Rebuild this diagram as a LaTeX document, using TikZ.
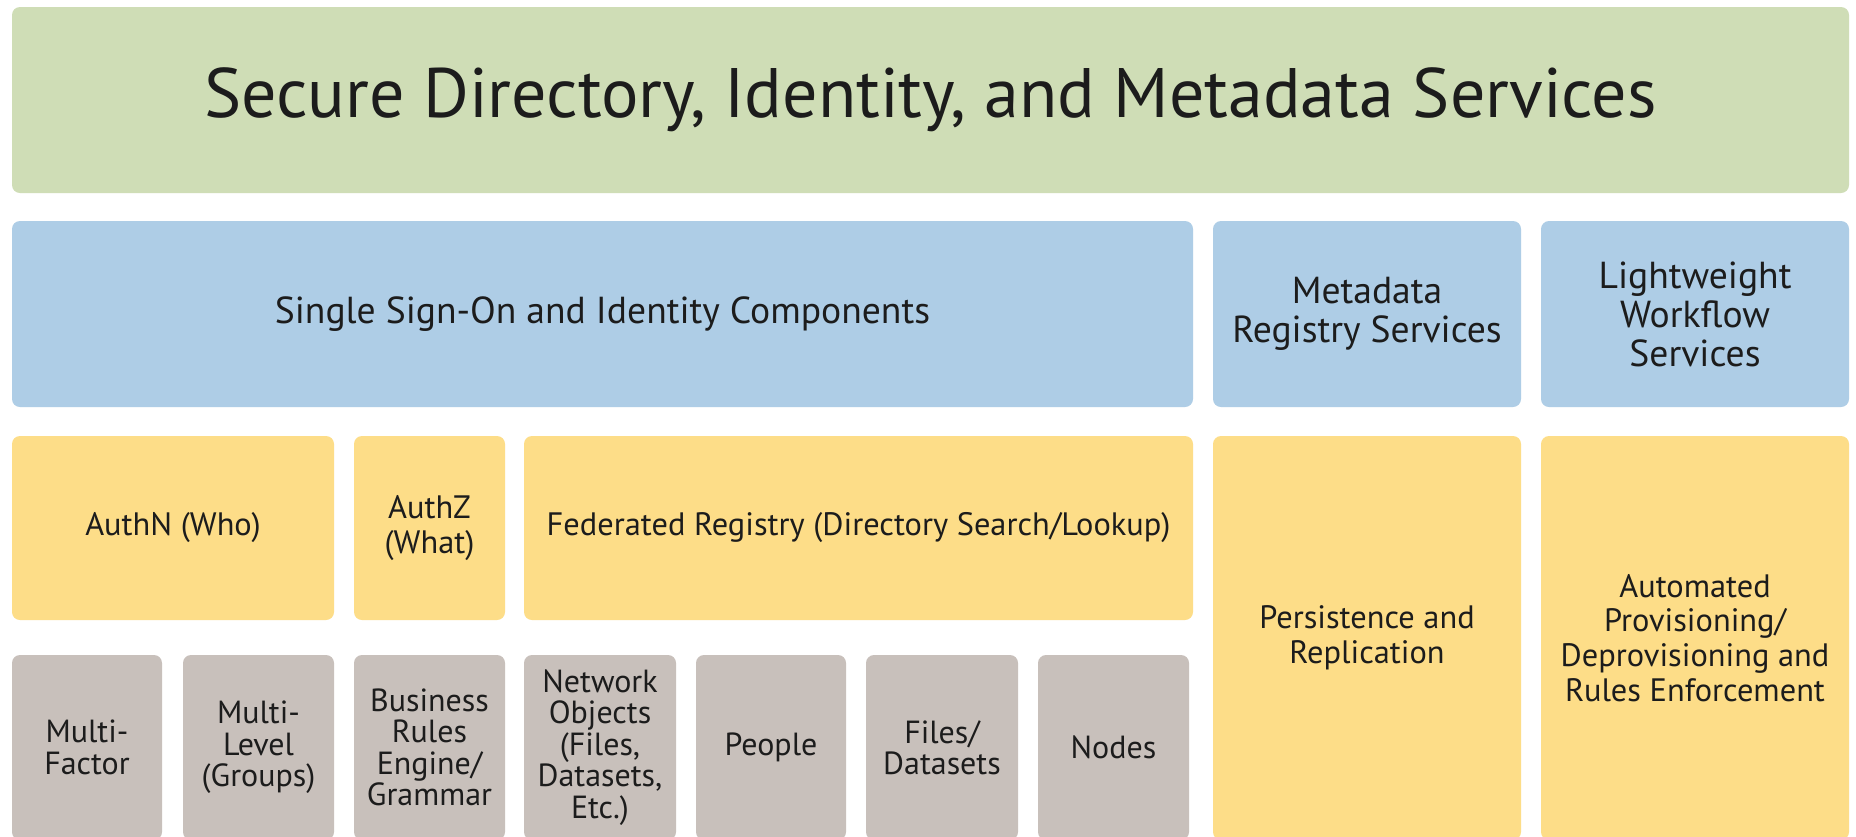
\documentclass[tikz,border=0pt]{standalone}
\usepackage{fontspec}
\setmainfont{PT Sans}
\definecolor{grn}{HTML}{CFDDB6}
\definecolor{blu}{HTML}{AECDE6}
\definecolor{ylw}{HTML}{FDDD88}
\definecolor{gry}{HTML}{C8C0BB}
\definecolor{ink}{HTML}{1C1C1C}
% \blockat{style}{name}{x1}{y1}{x2}{y2}{text}: a block spanning the given corners
\newcommand\blockat[7]{%
  \node[#1, minimum width={(#5-#3)*0.5pt}, minimum height={(#6-#4)*0.5pt}]
    (#2) at ({(#3+#5)/2},{(#4+#6)/2}) {#7};}
\begin{document}
\begin{tikzpicture}[x=0.5pt,y=-0.5pt,
  blk/.style={rectangle, rounded corners=4pt, inner sep=0pt, align=center, text=ink},
  titlebox/.style={blk, fill=grn, font=\fontsize{35}{40}\selectfont},
  bluebox/.style={blk, fill=blu, font=\fontsize{18.8}{19.5}\selectfont},
  ylwbox/.style={blk, fill=ylw, font=\fontsize{16.2}{17.4}\selectfont},
  grybox/.style={blk, fill=gry, font=\fontsize{16}{15.7}\selectfont}]
\useasboundingbox (0,0) rectangle (1856,836);
\clip (0,0) rectangle (1856,836);
\fill[white] (0,0) rectangle (1856,836);

% top band
\blockat{titlebox}{title}{12}{7}{1849}{193}{Secure Directory, Identity, and Metadata Services}

% service row
\blockat{bluebox}{sso}{12}{221}{1193}{407}{Single Sign-On and Identity Components}
\blockat{bluebox}{meta}{1213}{221}{1521}{407}{Metadata\\Registry Services}
\blockat{bluebox}{flow}{1541}{221}{1849}{407}{Lightweight\\Workflow\\Services}

% component row
\blockat{ylwbox}{authn}{12}{436}{334}{620}{AuthN (Who)}
\blockat{ylwbox}{authz}{354}{436}{505}{620}{AuthZ\\(What)}
\blockat{ylwbox}{fed}{524}{436}{1193}{620}{Federated Registry (Directory Search/Lookup)}
\blockat{ylwbox}{persist}{1213}{436}{1521}{840}{Persistence and\\Replication}
\blockat{ylwbox}{prov}{1541}{436}{1849}{840}{Automated\\Provisioning/\\Deprovisioning and\\Rules Enforcement}

% detail row
\blockat{grybox}{mfa}{12}{655}{162}{840}{Multi-\\Factor}
\blockat{grybox}{mlvl}{183}{655}{334}{840}{Multi-\\Level\\(Groups)}
\blockat{grybox}{rules}{354}{655}{505}{840}{Business\\Rules\\Engine/\\Grammar}
\blockat{grybox}{netobj}{524}{655}{676}{840}{Network\\Objects\\(Files,\\Datasets,\\Etc.)}
\blockat{grybox}{people}{696}{655}{846}{840}{People}
\blockat{grybox}{files}{866}{655}{1018}{840}{Files/\\Datasets}
\blockat{grybox}{nodes}{1038}{655}{1189}{840}{Nodes}
\end{tikzpicture}
\end{document}
